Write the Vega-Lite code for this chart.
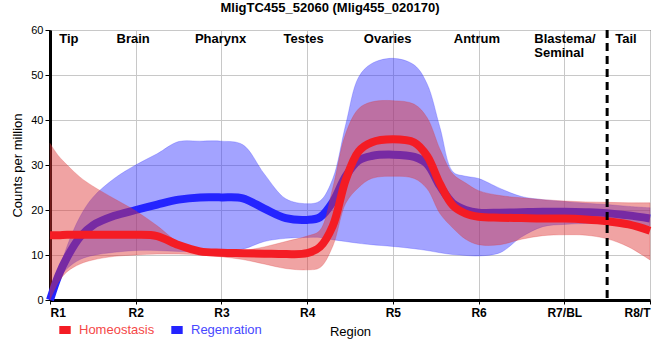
{
  "$schema": "https://vega.github.io/schema/vega-lite/v6.json",
  "width": 600,
  "height": 270,
  "autosize": "none",
  "padding": {"left": 50, "top": 30, "right": 10, "bottom": 60},
  "background": "white",
  "title": {"text": "MligTC455_52060 (Mlig455_020170)", "fontSize": 13, "fontWeight": "bold", "font": "Liberation Sans", "color": "black", "anchor": "middle", "dx": -20, "offset": 9},
  "config": {
    "view": {"stroke": "black", "strokeWidth": 1},
    "font": "Liberation Sans",
    "axis": {"gridColor": "#c8c8c8", "gridWidth": 1, "gridOpacity": 1, "domainColor": "black", "domainWidth": 3, "tickColor": "black", "labelColor": "black", "titleColor": "black", "labelFont": "Liberation Sans", "titleFont": "Liberation Sans"}
  },
  "datasets": {
    "curves": [
      {"series": "Homeostasis", "x": 1, "mean": 14.4, "lo": 0, "hi": 34.8},
      {"series": "Homeostasis", "x": 1.1, "mean": 14.4, "lo": 4.0, "hi": 32.0},
      {"series": "Homeostasis", "x": 1.2, "mean": 14.5, "lo": 6.3, "hi": 30.0},
      {"series": "Homeostasis", "x": 1.35, "mean": 14.5, "lo": 8.0, "hi": 27.3},
      {"series": "Homeostasis", "x": 1.5, "mean": 14.5, "lo": 8.9, "hi": 25.3},
      {"series": "Homeostasis", "x": 1.75, "mean": 14.5, "lo": 9.7, "hi": 22.5},
      {"series": "Homeostasis", "x": 2, "mean": 14.5, "lo": 10.0, "hi": 19.8},
      {"series": "Homeostasis", "x": 2.25, "mean": 14.2, "lo": 10.2, "hi": 16.5},
      {"series": "Homeostasis", "x": 2.5, "mean": 12.2, "lo": 10.2, "hi": 12.8},
      {"series": "Homeostasis", "x": 2.75, "mean": 10.8, "lo": 10.0, "hi": 11.2},
      {"series": "Homeostasis", "x": 3, "mean": 10.5, "lo": 9.6, "hi": 11.0},
      {"series": "Homeostasis", "x": 3.25, "mean": 10.4, "lo": 9.0, "hi": 11.0},
      {"series": "Homeostasis", "x": 3.5, "mean": 10.3, "lo": 8.0, "hi": 11.8},
      {"series": "Homeostasis", "x": 3.75, "mean": 10.2, "lo": 7.0, "hi": 13.0},
      {"series": "Homeostasis", "x": 4, "mean": 10.4, "lo": 6.7, "hi": 14.2},
      {"series": "Homeostasis", "x": 4.15, "mean": 11.8, "lo": 7.2, "hi": 15.5},
      {"series": "Homeostasis", "x": 4.3, "mean": 16.5, "lo": 12.0, "hi": 25.0},
      {"series": "Homeostasis", "x": 4.45, "mean": 26.7, "lo": 21.5, "hi": 37.0},
      {"series": "Homeostasis", "x": 4.6, "mean": 33.0, "lo": 25.0, "hi": 42.5},
      {"series": "Homeostasis", "x": 4.75, "mean": 35.0, "lo": 27.0, "hi": 44.0},
      {"series": "Homeostasis", "x": 5, "mean": 35.7, "lo": 27.5, "hi": 44.3},
      {"series": "Homeostasis", "x": 5.25, "mean": 35.0, "lo": 27.0, "hi": 43.5},
      {"series": "Homeostasis", "x": 5.4, "mean": 32.0, "lo": 24.7, "hi": 40.5},
      {"series": "Homeostasis", "x": 5.55, "mean": 25.8, "lo": 19.2, "hi": 33.5},
      {"series": "Homeostasis", "x": 5.7, "mean": 21.0, "lo": 16.0, "hi": 28.0},
      {"series": "Homeostasis", "x": 5.85, "mean": 19.2, "lo": 13.5, "hi": 26.0},
      {"series": "Homeostasis", "x": 6, "mean": 18.5, "lo": 12.3, "hi": 24.3},
      {"series": "Homeostasis", "x": 6.25, "mean": 18.3, "lo": 12.3, "hi": 23.2},
      {"series": "Homeostasis", "x": 6.5, "mean": 18.2, "lo": 13.5, "hi": 22.7},
      {"series": "Homeostasis", "x": 6.75, "mean": 18.1, "lo": 14.3, "hi": 22.3},
      {"series": "Homeostasis", "x": 7, "mean": 18.1, "lo": 14.5, "hi": 22.0},
      {"series": "Homeostasis", "x": 7.25, "mean": 17.9, "lo": 14.4, "hi": 21.8},
      {"series": "Homeostasis", "x": 7.5, "mean": 17.5, "lo": 13.6, "hi": 21.7},
      {"series": "Homeostasis", "x": 7.75, "mean": 16.8, "lo": 11.8, "hi": 21.6},
      {"series": "Homeostasis", "x": 8, "mean": 15.4, "lo": 8.9, "hi": 21.6},
      {"series": "Regenration", "x": 1, "mean": 0, "lo": 0, "hi": 0},
      {"series": "Regenration", "x": 1.1, "mean": 5.5, "lo": 4.5, "hi": 6.0},
      {"series": "Regenration", "x": 1.2, "mean": 9.5, "lo": 7.0, "hi": 12.0},
      {"series": "Regenration", "x": 1.35, "mean": 14.0, "lo": 9.0, "hi": 18.5},
      {"series": "Regenration", "x": 1.5, "mean": 16.6, "lo": 9.9, "hi": 22.8},
      {"series": "Regenration", "x": 1.75, "mean": 18.7, "lo": 10.6, "hi": 27.0},
      {"series": "Regenration", "x": 2, "mean": 20.0, "lo": 11.0, "hi": 30.0},
      {"series": "Regenration", "x": 2.25, "mean": 21.2, "lo": 11.0, "hi": 32.5},
      {"series": "Regenration", "x": 2.5, "mean": 22.3, "lo": 10.8, "hi": 35.2},
      {"series": "Regenration", "x": 2.75, "mean": 22.8, "lo": 10.8, "hi": 35.3},
      {"series": "Regenration", "x": 3, "mean": 22.8, "lo": 10.8, "hi": 35.3},
      {"series": "Regenration", "x": 3.25, "mean": 22.6, "lo": 11.3, "hi": 34.5},
      {"series": "Regenration", "x": 3.5, "mean": 20.3, "lo": 13.0, "hi": 28.0},
      {"series": "Regenration", "x": 3.75, "mean": 18.2, "lo": 13.7, "hi": 22.5},
      {"series": "Regenration", "x": 4, "mean": 17.8, "lo": 13.9, "hi": 21.4},
      {"series": "Regenration", "x": 4.15, "mean": 18.4, "lo": 13.9, "hi": 22.0},
      {"series": "Regenration", "x": 4.3, "mean": 21.8, "lo": 13.4, "hi": 27.0},
      {"series": "Regenration", "x": 4.45, "mean": 27.5, "lo": 13.0, "hi": 39.0},
      {"series": "Regenration", "x": 4.6, "mean": 31.0, "lo": 12.6, "hi": 49.5},
      {"series": "Regenration", "x": 4.75, "mean": 32.0, "lo": 12.3, "hi": 52.5},
      {"series": "Regenration", "x": 5, "mean": 32.3, "lo": 11.9, "hi": 53.7},
      {"series": "Regenration", "x": 5.25, "mean": 31.8, "lo": 11.4, "hi": 52.2},
      {"series": "Regenration", "x": 5.4, "mean": 30.2, "lo": 11.0, "hi": 48.0},
      {"series": "Regenration", "x": 5.55, "mean": 25.3, "lo": 10.5, "hi": 38.3},
      {"series": "Regenration", "x": 5.7, "mean": 21.5, "lo": 10.1, "hi": 28.5},
      {"series": "Regenration", "x": 5.85, "mean": 20.0, "lo": 9.9, "hi": 27.5},
      {"series": "Regenration", "x": 6, "mean": 19.4, "lo": 9.8, "hi": 27.0},
      {"series": "Regenration", "x": 6.25, "mean": 19.4, "lo": 10.5, "hi": 24.8},
      {"series": "Regenration", "x": 6.5, "mean": 19.5, "lo": 14.0, "hi": 23.0},
      {"series": "Regenration", "x": 6.75, "mean": 19.6, "lo": 16.3, "hi": 22.3},
      {"series": "Regenration", "x": 7, "mean": 19.6, "lo": 16.8, "hi": 21.9},
      {"series": "Regenration", "x": 7.25, "mean": 19.5, "lo": 17.0, "hi": 21.5},
      {"series": "Regenration", "x": 7.5, "mean": 19.3, "lo": 17.0, "hi": 21.2},
      {"series": "Regenration", "x": 7.75, "mean": 18.8, "lo": 16.8, "hi": 20.8},
      {"series": "Regenration", "x": 8, "mean": 18.1, "lo": 16.5, "hi": 20.5}
    ],
    "regions": [
      {"label": "Tip", "x": 1.22, "y": 58},
      {"label": "Brain", "x": 1.97, "y": 58},
      {"label": "Pharynx", "x": 2.99, "y": 58},
      {"label": "Testes", "x": 3.96, "y": 58},
      {"label": "Ovaries", "x": 4.94, "y": 58},
      {"label": "Antrum", "x": 5.98, "y": 58},
      {"label": "Tail", "x": 7.72, "y": 58}
    ],
    "regions2": [
      {"label": "Blastema/", "x": 6.65, "y": 58},
      {"label": "Seminal", "x": 6.65, "y": 55}
    ],
    "divider": [{"x": 7.5}]
  },
  "layer": [
    {
      "data": {"name": "curves"},
      "transform": [{"filter": "datum.series === 'Regenration'"}],
      "mark": {"type": "area", "interpolate": "catmull-rom", "color": "#3333ff", "fillOpacity": 0.45, "stroke": "#3333ff", "strokeOpacity": 0.25, "strokeWidth": 1},
      "encoding": {
        "x": {"field": "x", "type": "quantitative", "scale": {"domain": [1, 8], "nice": false, "zero": false},
              "axis": {"values": [1, 2, 3, 4, 5, 6, 7, 8], "labelExpr": "['R1','R2','R3','R4','R5','R6','R7/BL','R8/T'][datum.value-1]", "labelFontSize": 12, "labelFontWeight": "bold", "tickSize": 4, "labelPadding": 3, "title": "Region", "titleFontSize": 13, "titleFontWeight": "normal", "titlePadding": 7, "grid": true}},
        "y": {"field": "lo", "type": "quantitative", "scale": {"domain": [0, 60], "nice": false},
              "axis": {"values": [0, 5, 10, 15, 20, 25, 30, 35, 40, 45, 50, 55, 60], "labelFontSize": 11, "tickSize": 5, "labelPadding": 2, "title": "Counts per million", "titleFontSize": 13, "titleFontWeight": "normal", "titlePadding": 6, "grid": true}},
        "y2": {"field": "hi"}
      }
    },
    {
      "data": {"name": "curves"},
      "transform": [{"filter": "datum.series === 'Regenration'"}],
      "mark": {"type": "line", "interpolate": "catmull-rom", "strokeWidth": 8, "strokeCap": "butt"},
      "encoding": {
        "x": {"field": "x", "type": "quantitative"},
        "y": {"field": "mean", "type": "quantitative"},
        "stroke": {"field": "series", "type": "nominal",
                   "scale": {"domain": ["Homeostasis", "Regenration"], "range": ["#f41c24", "#2424ff"]},
                   "legend": {"title": null, "orient": "none", "legendX": 5, "legendY": 290, "direction": "horizontal", "symbolType": "stroke", "symbolStrokeWidth": 8, "symbolSize": 130, "labelFontSize": 13, "labelFont": "Liberation Sans", "labelOffset": 4, "columnPadding": 0, "padding": 0,
                              "encode": {"labels": {"update": {"fill": {"signal": "datum.value === 'Homeostasis' ? '#f54848' : '#4848ff'"}}}}}}
      }
    },
    {
      "data": {"name": "curves"},
      "transform": [{"filter": "datum.series === 'Homeostasis'"}],
      "mark": {"type": "area", "interpolate": "catmull-rom", "color": "#dd3333", "fillOpacity": 0.45, "stroke": "#dd3333", "strokeOpacity": 0.25, "strokeWidth": 1},
      "encoding": {
        "x": {"field": "x", "type": "quantitative"},
        "y": {"field": "lo", "type": "quantitative"},
        "y2": {"field": "hi"}
      }
    },
    {
      "data": {"name": "curves"},
      "transform": [{"filter": "datum.series === 'Homeostasis'"}],
      "mark": {"type": "line", "interpolate": "catmull-rom", "strokeWidth": 8, "strokeCap": "butt"},
      "encoding": {
        "x": {"field": "x", "type": "quantitative"},
        "y": {"field": "mean", "type": "quantitative"},
        "stroke": {"field": "series", "type": "nominal"}
      }
    },
    {
      "data": {"name": "divider"},
      "mark": {"type": "rule", "color": "black", "strokeWidth": 3, "strokeDash": [8, 5]},
      "encoding": {"x": {"field": "x", "type": "quantitative"}}
    },
    {
      "data": {"name": "regions"},
      "mark": {"type": "text", "fontSize": 13, "fontWeight": "bold", "font": "Liberation Sans", "color": "black", "align": "center", "baseline": "middle"},
      "encoding": {
        "x": {"field": "x", "type": "quantitative"},
        "y": {"field": "y", "type": "quantitative"},
        "text": {"field": "label"}
      }
    },
    {
      "data": {"name": "regions2"},
      "mark": {"type": "text", "fontSize": 13, "fontWeight": "bold", "font": "Liberation Sans", "color": "black", "align": "left", "baseline": "middle"},
      "encoding": {
        "x": {"field": "x", "type": "quantitative"},
        "y": {"field": "y", "type": "quantitative"},
        "text": {"field": "label"}
      }
    }
  ]
}
